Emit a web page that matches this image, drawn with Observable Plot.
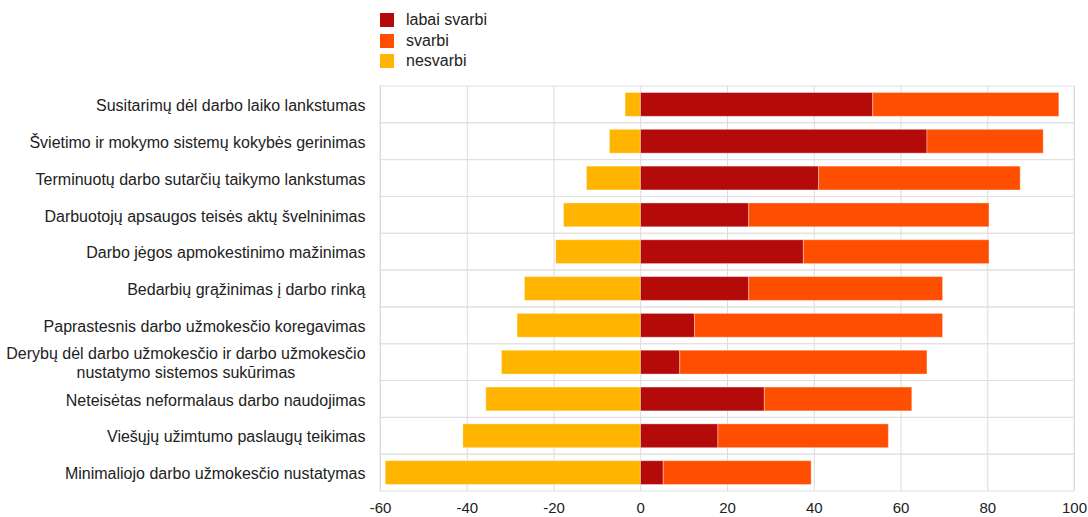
<!DOCTYPE html>
<html>
<head>
<meta charset="utf-8">
<script src="https://cdn.jsdelivr.net/npm/d3@7"></script>
<script src="https://cdn.jsdelivr.net/npm/@observablehq/plot@0.6"></script>
<style>
  html, body { margin: 0; padding: 0; background: #fff; }
  body { width: 1088px; height: 517px; overflow: hidden; font-family: "Liberation Sans", Arial, sans-serif; }
  #legend { position: relative; height: 80px; }
  .li { position: absolute; left: 380px; height: 14px; display: flex; align-items: center; font-size: 16px; color: #222; }
  .sw { width: 14px; height: 14px; margin-right: 12px; flex: none; }
  #chart svg { display: block; }
</style>
</head>
<body>
<div id="legend"></div>
<div id="chart"></div>
<script>
const categories = [
  "Susitarimų dėl darbo laiko lankstumas",
  "Švietimo ir mokymo sistemų kokybės gerinimas",
  "Terminuotų darbo sutarčių taikymo lankstumas",
  "Darbuotojų apsaugos teisės aktų švelninimas",
  "Darbo jėgos apmokestinimo mažinimas",
  "Bedarbių grąžinimas į darbo rinką",
  "Paprastesnis darbo užmokesčio koregavimas",
  "Derybų dėl darbo užmokesčio ir darbo užmokesčio\nnustatymo sistemos sukūrimas",
  "Neteisėtas neformalaus darbo naudojimas",
  "Viešųjų užimtumo paslaugų teikimas",
  "Minimaliojo darbo užmokesčio nustatymas"
];
const seriesNames = ["labai svarbi", "svarbi", "nesvarbi"];
const seriesColors = ["#B50A0A", "#FF4E00", "#FFB400"];
const labaiSvarbi = [53.6, 66.1, 41.1, 25.0, 37.6, 25.0, 12.5, 9.1, 28.6, 17.9, 5.3];
const svarbi      = [42.9, 26.8, 46.5, 55.4, 42.8, 44.7, 57.2, 57.0, 34.0, 39.3, 34.1];
const nesvarbi    = [-3.5, -7.1, -12.4, -17.7, -19.5, -26.7, -28.4, -32.0, -35.6, -40.9, -58.8];
const xDomain = [-60, 100];
const xTicks = [-60, -40, -20, 0, 20, 40, 60, 80, 100];

const seriesValues = [labaiSvarbi, svarbi, nesvarbi];
const data = [];
seriesNames.forEach((s, si) => {
  categories.forEach((c, ci) => data.push({category: c, series: s, value: seriesValues[si][ci]}));
});

// legend
const leg = document.getElementById("legend");
seriesNames.forEach((s, i) => {
  const d = document.createElement("div");
  d.className = "li";
  d.style.top = (13 + i * 20.7) + "px";
  d.innerHTML = `<div class="sw" style="background:${seriesColors[i]}"></div><span>${s}</span>`;
  leg.appendChild(d);
});

const chart = Plot.plot({
  width: 1088,
  height: 437,
  marginTop: 6,
  marginBottom: 26,
  marginLeft: 380,
  marginRight: 14,
  style: {fontFamily: "Liberation Sans, Arial, sans-serif", fontSize: "16px", color: "#222", background: "#fff"},
  x: {domain: xDomain, ticks: xTicks, label: null},
  y: {domain: categories, padding: 0, round: false, label: null},
  color: {domain: seriesNames, range: seriesColors},
  marks: [
    Plot.barX(categories, {x1: xDomain[0], x2: xDomain[1], y: d => d, fill: "none", stroke: "#e0e0e0", strokeWidth: 1}),
    Plot.gridX(xTicks, {stroke: "#dcdcdc", strokeOpacity: 1, strokeWidth: 1}),
    Plot.barX(data, {x: "value", y: "category", fill: "series", order: seriesNames, insetTop: 6.5, insetBottom: 6.5, stroke: "white", strokeOpacity: 0.35, strokeWidth: 1}),
    Plot.axisX({ticks: xTicks, tickSize: 0, tickPadding: 11, tickFormat: d => String(d), fontSize: 15}),
    Plot.axisY({tickSize: 0, tickPadding: 15, fontSize: 16, lineHeight: 1.2, textAnchor: "end"})
  ]
});
document.getElementById("chart").appendChild(chart);

// center multi-line label lines
chart.querySelectorAll("text").forEach(t => {
  const spans = t.querySelectorAll("tspan");
  if (spans.length > 1) {
    const b = t.getBBox();
    t.setAttribute("text-anchor", "middle");
    spans.forEach(sp => sp.setAttribute("x", b.x + b.width / 2));
  }
});
</script>
</body>
</html>
